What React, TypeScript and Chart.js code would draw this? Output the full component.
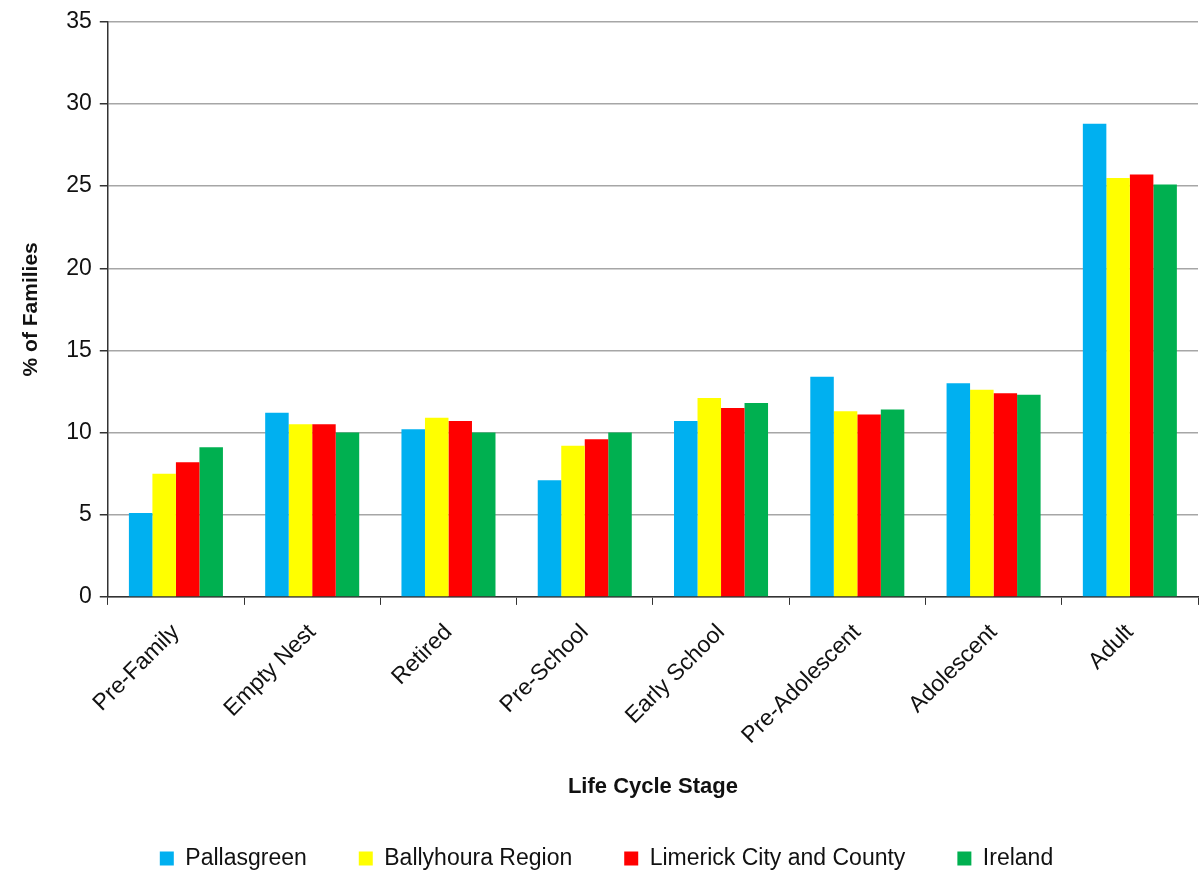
import React, { useEffect, useRef } from "react";
import { Chart, registerables } from "chart.js";

Chart.register(...registerables);

const categories = ["Pre-Family", "Empty Nest", "Retired", "Pre-School", "Early School", "Pre-Adolescent", "Adolescent", "Adult"];
const pallasgreen = [5.1, 11.2, 10.2, 7.1, 10.7, 13.4, 13.0, 28.8];
const ballyhoura = [7.5, 10.5, 10.9, 9.2, 12.1, 11.3, 12.6, 25.5];
const limerick = [8.2, 10.5, 10.7, 9.6, 11.5, 11.1, 12.4, 25.7];
const ireland = [9.1, 10.0, 10.0, 10.0, 11.8, 11.4, 12.3, 25.1];
const seriesNames = ["Pallasgreen", "Ballyhoura Region", "Limerick City and County", "Ireland"];
const seriesColors = ["#00B0F0", "#FFFF00", "#FF0000", "#00B050"];
const yTicks = [0, 5, 10, 15, 20, 25, 30, 35];

const FONT = "'Liberation Sans', Arial, sans-serif";

export default function App() {
  const ref = useRef<HTMLCanvasElement | null>(null);
  useEffect(() => {
    document.body.style.margin = "0";
    const ctx = ref.current!.getContext("2d")!;
    const values = [pallasgreen, ballyhoura, limerick, ireland];
    const chart = new Chart(ctx, {
      type: "bar",
      data: {
        labels: categories,
        datasets: values.map((v, i) => ({
          label: seriesNames[i],
          data: v,
          backgroundColor: seriesColors[i],
          borderWidth: 0,
          categoryPercentage: 0.69,
          barPercentage: 1,
        })),
      },
      options: {
        animation: false,
        responsive: false,
        devicePixelRatio: 1,
        layout: { padding: { top: -3, right: 6, left: 15, bottom: -8 } },
        plugins: {
          tooltip: { enabled: false },
          legend: {
            position: "bottom",
            labels: {
              boxWidth: 14,
              boxHeight: 14,
              padding: 52,
              color: "#111",
              font: { family: FONT, size: 23 },
            },
          },
        },
        scales: {
          x: {
            offset: true,
            grid: {
              offset: true,
              drawOnChartArea: false,
              drawTicks: true,
              tickLength: 8,
              color: "#333",
            },
            border: { color: "#333", width: 1.5 },
            ticks: {
              minRotation: 45,
              maxRotation: 45,
              color: "#111",
              font: { family: FONT, size: 23 },
              padding: 14,
            },
            title: {
              display: true,
              text: "Life Cycle Stage",
              color: "#111",
              font: { family: FONT, size: 22, weight: "bold" },
              padding: { top: 10, bottom: -5 },
            },
          },
          y: {
            min: 0,
            max: 35,
            afterBuildTicks: (axis: any) => {
              axis.ticks = yTicks.map((v) => ({ value: v }));
            },
            grid: {
              color: "#A6A6A6",
              lineWidth: 1.5,
              drawTicks: true,
              tickLength: 8,
              tickColor: "#333",
            },
            border: { color: "#333", width: 1.5 },
            ticks: {
              color: "#111",
              font: { family: FONT, size: 23 },
              padding: 8,
            },
            title: {
              display: true,
              text: "% of Families",
              color: "#111",
              font: { family: FONT, size: 21, weight: "bold" },
              padding: { bottom: 14 },
            },
          },
        },
      },
    });
    return () => chart.destroy();
  }, []);
  return (
    <div style={{ width: 1204, height: 872, background: "#fff" }}>
      <canvas ref={ref} width={1204} height={872} />
    </div>
  );
}
